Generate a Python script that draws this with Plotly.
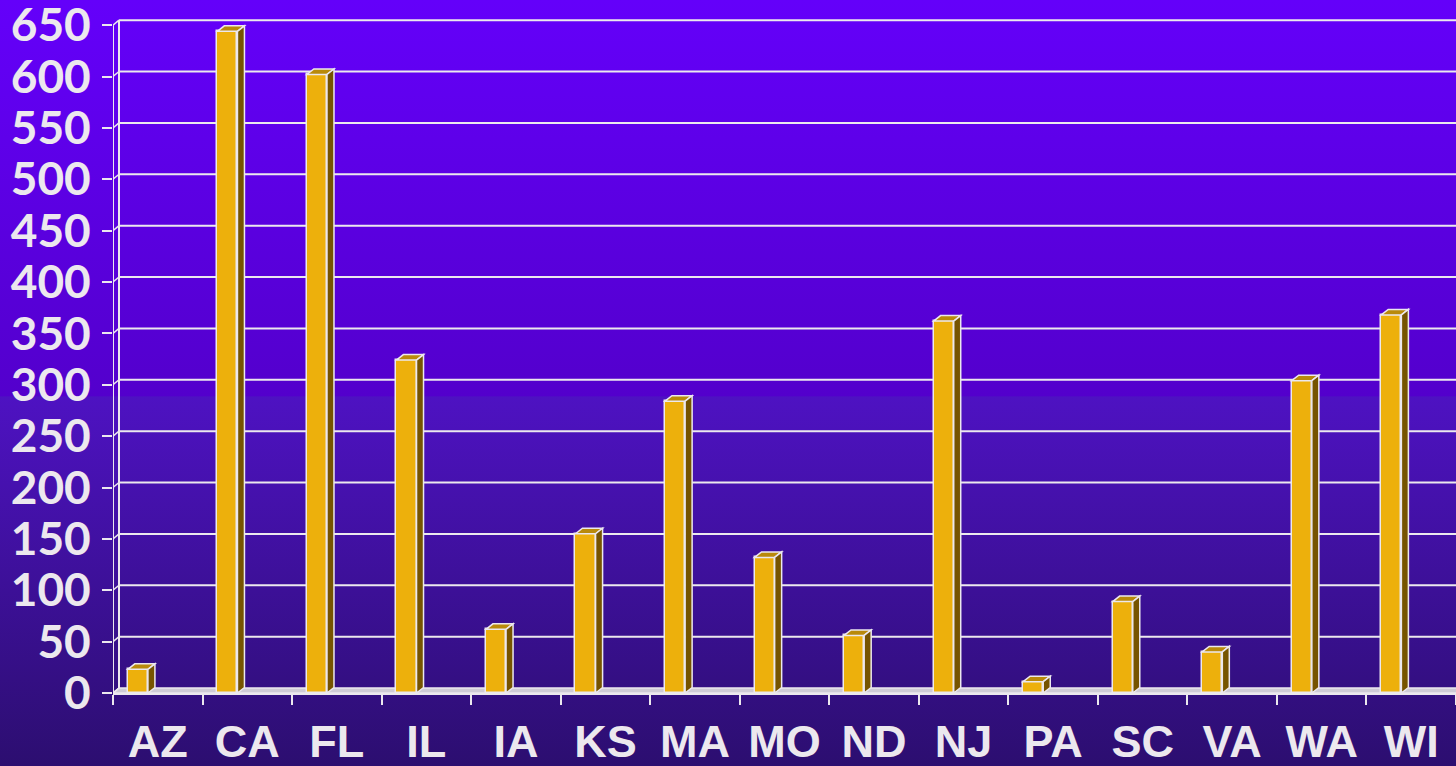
import base64
import plotly.graph_objects as go

# ---- data ----
states = ["AZ", "CA", "FL", "IL", "IA", "KS", "MA", "MO", "ND", "NJ", "PA", "SC", "VA", "WA", "WI"]
values = [23, 644, 602, 324, 62, 155, 284, 132, 56, 362, 11, 89, 40, 304, 368]
y_ticks = list(range(0, 651, 50))

# ---- geometry / style ----
W, H = 1456, 766
ML, MR, MT, MB = 113, 0, 19, 73
PW, PH = W - ML - MR, H - MT - MB
YMAX = 656
N = len(states)
KX = PW / N              # px per category slot
KY = PH / YMAX           # px per value unit
DX = 6 / KX              # wall depth offset (x units)
DY = 5 / KY              # wall depth offset (y units)
BDX = 7 / KX             # bar depth offset
BDY = 5.5 / KY
BAR_OFF, BAR_W = 0.165, 0.225

LIGHT = "#ECE8EE"
GOLD = "#EDB00C"
GOLD_TOP = "#B98A0B"
GOLD_SIDE = "#765400"
FLOOR = "#CFCBD6"

xs = [i + BAR_OFF + BAR_W / 2 for i in range(N)]

fig = go.Figure()
fig.add_trace(go.Bar(
    x=xs, y=values, width=BAR_W,
    marker=dict(color=GOLD, line=dict(color=LIGHT, width=1.5)),
    hoverinfo="skip", showlegend=False,
))

shapes = []
# floor
shapes.append(dict(type="path", xref="x", yref="y", layer="below",
                   path=f"M 0,0 L {N},0 L {N + DX},{DY} L {DX},{DY} Z",
                   fillcolor=FLOOR, line=dict(color=LIGHT, width=1.5)))
# back wall grid lines
for v in y_ticks[1:]:
    shapes.append(dict(type="line", xref="x", yref="y", layer="below",
                       x0=DX, x1=N + 1, y0=v + DY, y1=v + DY,
                       line=dict(color=LIGHT, width=2)))
# left wall: front line, back line and connectors
shapes.append(dict(type="line", xref="x", yref="y", layer="below",
                   x0=0, x1=0, y0=0, y1=y_ticks[-1], line=dict(color=LIGHT, width=2)))
shapes.append(dict(type="line", xref="x", yref="y", layer="below",
                   x0=DX, x1=DX, y0=DY, y1=y_ticks[-1] + DY, line=dict(color=LIGHT, width=2)))
for v in y_ticks:
    shapes.append(dict(type="line", xref="x", yref="y", layer="below",
                       x0=0, x1=DX, y0=v, y1=v + DY, line=dict(color=LIGHT, width=1.5)))
# 3D faces for bars
for i, v in enumerate(values):
    xl = i + BAR_OFF
    xr = xl + BAR_W
    shapes.append(dict(type="path", xref="x", yref="y", layer="above",
                       path=f"M {xl},{v} L {xl + BDX},{v + BDY} L {xr + BDX},{v + BDY} L {xr},{v} Z",
                       fillcolor=GOLD_TOP, line=dict(color=LIGHT, width=1.5)))
    shapes.append(dict(type="path", xref="x", yref="y", layer="above",
                       path=f"M {xr},0 L {xr},{v} L {xr + BDX},{v + BDY} L {xr + BDX},{BDY} Z",
                       fillcolor=GOLD_SIDE, line=dict(color=LIGHT, width=1.5)))

# background gradient as an SVG image
svg = (
    f'<svg xmlns="http://www.w3.org/2000/svg" width="{W}" height="{H}" '
    f'viewBox="0 0 {W} {H}" preserveAspectRatio="none">'
    '<defs><linearGradient id="g" x1="0" y1="0" x2="0" y2="1">'
    '<stop offset="0" stop-color="#6400FA"/>'
    '<stop offset="0.517" stop-color="#5300CC"/>'
    '<stop offset="0.518" stop-color="#4E12C2"/>'
    '<stop offset="1" stop-color="#2C0E70"/>'
    '</linearGradient></defs>'
    f'<rect x="0" y="0" width="{W}" height="{H}" fill="url(#g)"/></svg>'
)
bg_src = "data:image/svg+xml;base64," + base64.b64encode(svg.encode()).decode()

fig.update_layout(
    width=W, height=H,
    margin=dict(l=ML, r=MR, t=MT, b=MB, pad=0, autoexpand=False),
    paper_bgcolor="#4A10C0",
    plot_bgcolor="rgba(0,0,0,0)",
    shapes=shapes,
    images=[dict(source=bg_src, xref="paper", yref="paper",
                 x=-ML / PW, y=1 + MT / PH, sizex=W / PW, sizey=H / PH,
                 xanchor="left", yanchor="top", sizing="stretch", layer="below")],
    bargap=0,
    xaxis=dict(
        range=[0, N], showgrid=False, zeroline=False, automargin=False,
        showline=True, linecolor=LIGHT, linewidth=2,
        tickmode="array", tickvals=[i + 0.5 for i in range(N)], ticktext=states,
        ticks="", ticklabelstandoff=8, ticklabeloverflow="allow",
        tickfont=dict(family="Liberation Sans", size=45, color=LIGHT, weight="bold"),
        minor=dict(tickmode="array", tickvals=list(range(N + 1)), ticks="outside",
                   ticklen=10, tickwidth=2, tickcolor=LIGHT, showgrid=False),
        fixedrange=True,
    ),
    yaxis=dict(
        range=[0, YMAX], showgrid=False, zeroline=False, showline=False, automargin=False,
        tickmode="array", tickvals=y_ticks,
        ticks="outside", ticklen=10, tickwidth=2, tickcolor=LIGHT,
        ticklabelstandoff=2, ticklabeloverflow="allow",
        tickfont=dict(family="Lato", size=46, color=LIGHT, weight="bold"),
        fixedrange=True,
    ),
)

fig.write_html(
    "out.html",
    config={"displayModeBar": False},
    post_script="document.body.style.margin='0';document.body.style.background='#2C0E70';",
)
